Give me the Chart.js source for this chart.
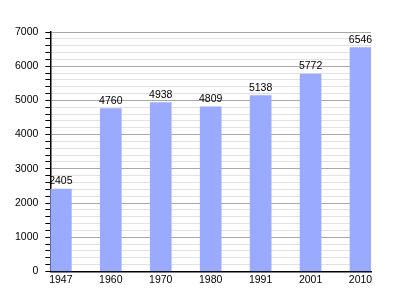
<!DOCTYPE html>
<html>
<head>
<meta charset="utf-8">
<script src="https://cdn.jsdelivr.net/npm/chart.js@4"></script>
<style>
html,body{margin:0;padding:0;background:#fff;}
#wrap{width:400px;height:300px;}
</style>
</head>
<body>
<div id="wrap"><canvas id="c" width="400" height="300"></canvas></div>
<script>
const categories = ['1947','1960','1970','1980','1991','2001','2010'];
const population = [2405, 4760, 4938, 4809, 5138, 5772, 6546];
const yTicks = [0, 1000, 2000, 3000, 4000, 5000, 6000, 7000];

const points = categories.map((c, i) => ({x: i, y: population[i]}));

const labelPlugin = {
  id: 'valueLabels',
  afterDatasetsDraw(chart) {
    const ctx = chart.ctx;
    const meta = chart.getDatasetMeta(0);
    ctx.save();
    ctx.font = '10.5px "Liberation Sans", Arial, sans-serif';
    ctx.fillStyle = '#000';
    ctx.textAlign = 'center';
    ctx.textBaseline = 'alphabetic';
    meta.data.forEach((el, i) => {
      ctx.fillText(String(population[i]), el.x, el.y - 5);
    });
    ctx.restore();
  }
};

new Chart(document.getElementById('c'), {
  type: 'bar',
  data: {
    datasets: [{
      data: points,
      backgroundColor: '#99aaff',
      borderWidth: 0,
      barThickness: 21
    }]
  },
  options: {
    responsive: false,
    animation: false,
    layout: {padding: {top: 32, right: 29, left: 8, bottom: 12}},
    plugins: {legend: {display: false}, tooltip: {enabled: false}},
    scales: {
      x: {
        type: 'linear',
        offset: false,
        min: -0.21,
        max: 6.21,
        afterBuildTicks(scale) {
          scale.ticks = categories.map((c, i) => ({value: i}));
        },
        ticks: {
          color: '#000',
          font: {size: 10.5, family: '"Liberation Sans", Arial, sans-serif'},
          padding: 2,
          maxRotation: 0,
          callback: (v) => categories[v]
        },
        grid: {display: false, drawTicks: false, offset: false},
        border: {display: true, color: '#000', width: 1.5}
      },
      y: {
        min: 0,
        max: 7000,
        afterBuildTicks(scale) {
          const t = [];
          for (let v = 0; v <= 7000; v += 200) t.push({value: v});
          scale.ticks = t;
        },
        ticks: {
          color: '#000',
          font: {size: 10.5, family: '"Liberation Sans", Arial, sans-serif'},
          padding: 7,
          autoSkip: false,
          callback: (v) => yTicks.includes(v) ? String(v) : ''
        },
        grid: {
          color: (ctx) => (ctx.tick && ctx.tick.value % 1000 === 0) ? '#a8a8a8' : '#e2e2e2',
          tickColor: '#000',
          tickLength: 5,
          lineWidth: 1
        },
        border: {display: true, color: '#000', width: 1.5}
      }
    }
  },
  plugins: [labelPlugin]
});
</script>
</body>
</html>
